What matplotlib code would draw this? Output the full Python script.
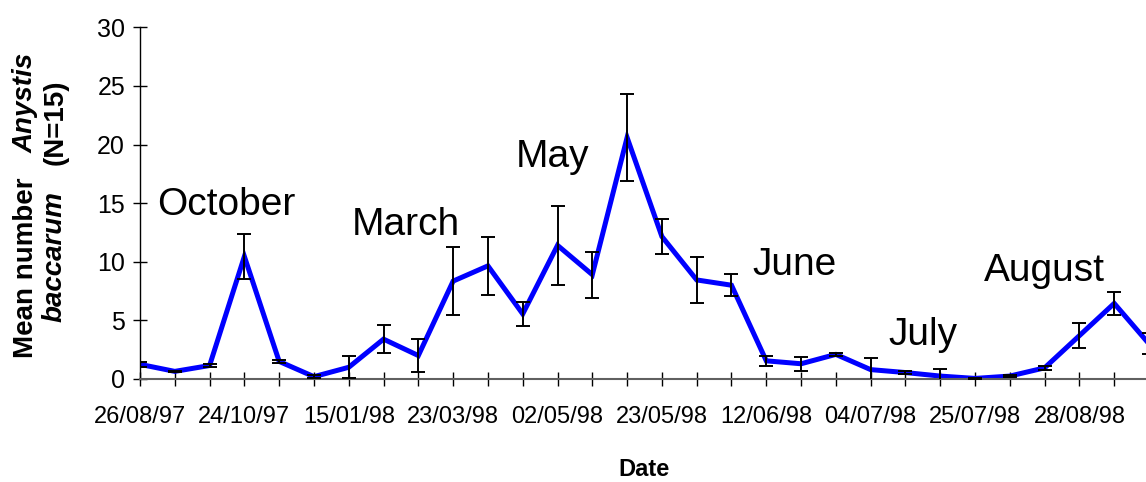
import matplotlib
matplotlib.use("Agg")
import matplotlib.pyplot as plt
from matplotlib import font_manager

# mean counts per sampling date with standard errors
means = [1.25, 0.65, 1.15, 10.45, 1.5, 0.2, 1.0, 3.4, 2.0, 8.35, 9.65, 5.55, 11.4, 8.9, 20.6,
         12.15, 8.45, 8.0, 1.55, 1.3, 2.1, 0.8, 0.55, 0.25, 0.05, 0.25, 0.95, 3.7, 6.45, 3.0]
errors = [0.2, 0.05, 0.15, 1.95, 0.1, 0.1, 0.95, 1.2, 1.4, 2.9, 2.5, 1.0, 3.35, 1.95, 3.7,
          1.5, 1.95, 0.95, 0.4, 0.6, 0.1, 0.95, 0.1, 0.6, 0.05, 0.05, 0.15, 1.05, 1.0, 0.9]
date_labels = ['26/08/97', '24/10/97', '15/01/98', '23/03/98', '02/05/98',
               '23/05/98', '12/06/98', '04/07/98', '25/07/98', '28/08/98']
label_step = 3

months = ['October', 'March', 'May', 'June', 'July', 'August']
month_x = [0.49, 6.1, 10.8, 17.6, 21.5, 24.26]
month_y = [14.0, 12.3, 18.1, 8.9, 2.9, 8.4]

names = {f.name for f in font_manager.fontManager.ttflist}
if 'Liberation Sans Narrow' in names:
    narrow, narrow_size = 'Liberation Sans Narrow', 20
else:
    narrow, narrow_size = 'Liberation Sans', 17

plt.rcParams['font.family'] = ['Liberation Sans', 'DejaVu Sans']

W, H = 1146, 482
fig = plt.figure(figsize=(W / 100, H / 100), dpi=100)
left, right, bottom, top = 140, 1149, 379, 27.3
ax = fig.add_axes([left / W, 1 - bottom / H, (right - left) / W, (bottom - top) / H])

x = list(range(len(means)))
ax.plot(x, means, color='#0000ff', lw=3.6, solid_joinstyle='miter', zorder=2)
ax.errorbar(x, means, yerr=errors, fmt='none', ecolor='black', elinewidth=1.4,
            capsize=5, capthick=1.4, zorder=3)

ax.set_xlim(0, len(means) - 1)
ax.set_ylim(0, 30)
ax.set_yticks(range(0, 31, 5))
ax.set_xticks(x)
ax.set_xticklabels([date_labels[i // label_step] if i % label_step == 0 else '' for i in x])

for s in ['top', 'right']:
    ax.spines[s].set_visible(False)
ax.spines['left'].set_linewidth(1.0)
ax.spines['bottom'].set_color('#606060')
ax.spines['bottom'].set_linewidth(1.5)

ax.tick_params(axis='y', direction='inout', length=9.5, width=1.0, pad=6, labelsize=18)
ax.tick_params(axis='x', direction='inout', length=10.5, width=1.0, pad=14)
for t in ax.get_xticklabels():
    t.set_fontfamily(narrow)
    t.set_fontsize(narrow_size)

for name, mx, my in zip(months, month_x, month_y):
    ax.text(mx, my, name, fontsize=28, ha='left', va='baseline', clip_on=False)

# axis titles
fig.text(644.5 / W, 1 / H, 'Date', fontsize=17, fontweight='bold', ha='center', va='bottom')
ylab = dict(rotation=90, rotation_mode='anchor', ha='left', va='baseline', fontsize=20, fontweight='bold')
fig.text(33 / W, 1 - 358 / H, 'Mean number', **ylab)
fig.text(33 / W, 1 - 153 / H, 'Anystis', style='italic', **ylab)
fig.text(62 / W, 1 - 322 / H, 'baccarum', style='italic', **ylab)
fig.text(63 / W, 1 - 165 / H, '(N=15)', **ylab)

fig.savefig('out.png', dpi=100)
